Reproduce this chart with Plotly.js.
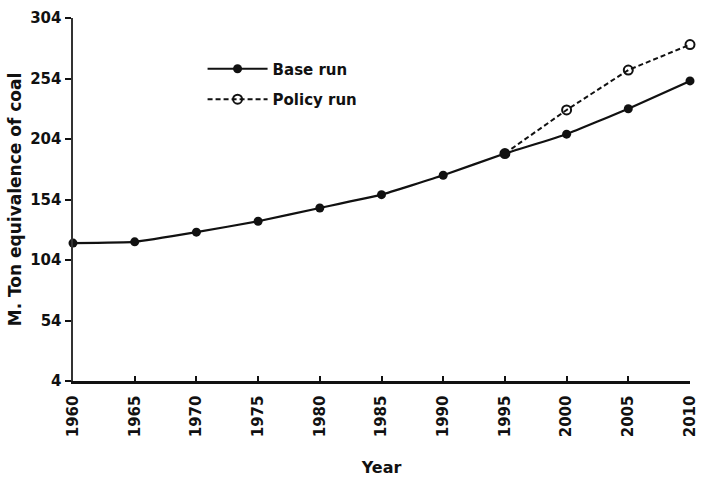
<!DOCTYPE html>
<html>
<head>
<meta charset="utf-8">
<script src="https://cdn.plot.ly/plotly-3.0.1.min.js"></script>
<style>html,body{margin:0;padding:0;background:#fff;}#chart{width:701px;height:477px;}</style>
</head>
<body>
<div id="chart"></div>
<script>
const years = [1960, 1965, 1970, 1975, 1980, 1985, 1990, 1995, 2000, 2005, 2010];
const baseRun = [118, 119, 127, 136, 147, 158, 174, 192, 208, 229, 252];
const policyYears = [1995, 2000, 2005, 2010];
const policyRun = [192, 228, 261, 282];
const yTicks = [4, 54, 104, 154, 204, 254, 304];
const xTicks = [1960, 1965, 1970, 1975, 1980, 1985, 1990, 1995, 2000, 2005, 2010];

const fontFam = 'DejaVu Sans, Arial, sans-serif';

const traces = [
  {
    x: policyYears, y: policyRun, name: 'Policy run', type: 'scatter', mode: 'lines+markers',
    line: {color: '#111', width: 2, dash: '5px,3px'},
    marker: {symbol: 'circle-open', size: 9, color: '#111', line: {width: 2, color: '#111'}},
    cliponaxis: false, legendrank: 2, legendgroup: 'p'
  },
  {
    x: years, y: baseRun, name: 'Base run', type: 'scatter', mode: 'lines+markers',
    line: {color: '#111', width: 2.2, shape: 'spline', smoothing: 0.3},
    marker: {symbol: 'circle', size: 9, color: '#111'},
    cliponaxis: false, legendrank: 1, legendgroup: 'b'
  }
];

const layout = {
  width: 701, height: 477,
  margin: {l: 73, r: 11, t: 18, b: 96},
  paper_bgcolor: '#fff', plot_bgcolor: '#fff',
  showlegend: true,
  legend: {
    x: 0.21, y: 0.905, xanchor: 'left', yanchor: 'top',
    bgcolor: 'rgba(0,0,0,0)', itemwidth: 60, tracegroupgap: 8,
    font: {family: fontFam, size: 15, color: '#111', weight: 'bold'}
  },
  xaxis: {
    range: [1960, 2010], tickvals: xTicks, ticktext: xTicks.map(String),
    tickangle: -90, ticks: 'inside', ticklen: 5, tickwidth: 2, tickcolor: '#111',
    ticklabelstandoff: 6,
    showline: true, linecolor: '#111', linewidth: 2.5, showgrid: false, zeroline: false,
    tickfont: {family: fontFam, size: 15, color: '#111', weight: 'bold'},
    title: {text: 'Year', standoff: 26, font: {family: fontFam, size: 16, color: '#111', weight: 'bold'}},
    automargin: false
  },
  yaxis: {
    range: [4, 304], tickvals: yTicks, ticktext: yTicks.map(String),
    ticks: 'outside', ticklen: 6, tickwidth: 2, tickcolor: '#111',
    showline: true, linecolor: '#333', linewidth: 2.5, showgrid: false, zeroline: false,
    tickfont: {family: fontFam, size: 15, color: '#111', weight: 'bold'},
    title: {text: 'M. Ton equivalence of coal', standoff: 4, font: {family: fontFam, size: 17, color: '#111', weight: 'bold'}},
    automargin: false
  }
};

Plotly.newPlot('chart', traces, layout, {displayModeBar: false, staticPlot: true});
</script>
</body>
</html>
